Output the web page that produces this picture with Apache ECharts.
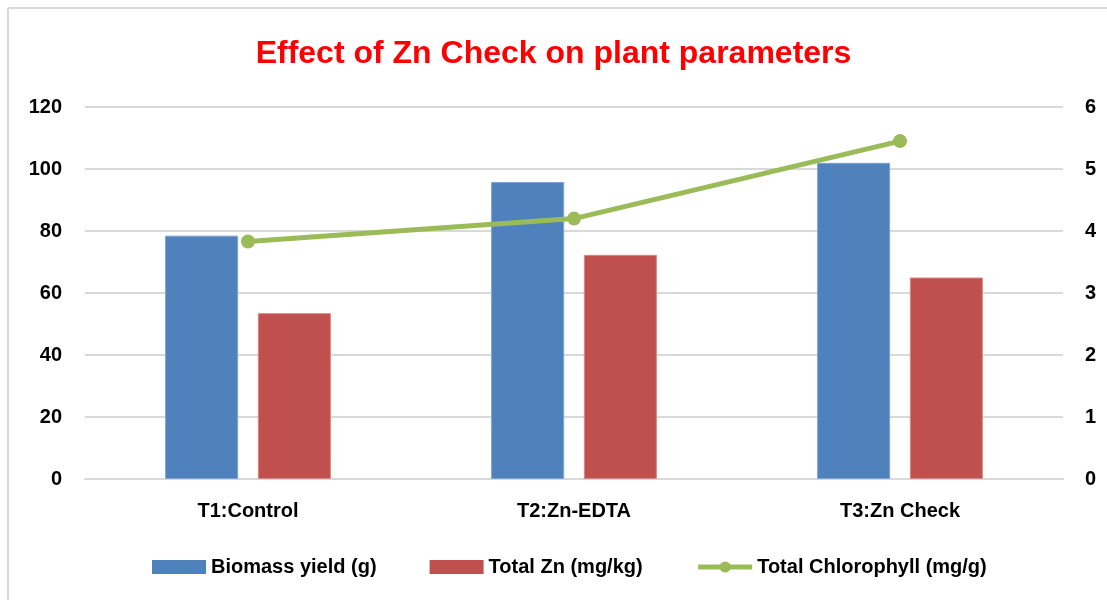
<!DOCTYPE html>
<html>
<head>
<meta charset="utf-8">
<script src="https://cdn.jsdelivr.net/npm/echarts@6/dist/echarts.min.js"></script>
<style>
  html, body { margin: 0; padding: 0; background: #fff; }
  #main { width: 1107px; height: 600px; }
</style>
</head>
<body>
<div id="main"></div>
<script>
// 数据
var categories = ['T1:Control', 'T2:Zn-EDTA', 'T3:Zn Check'];
var biomass = [78.5, 95.8, 102.0];
var totalZn = [53.5, 72.3, 65.0];
var chlorophyll = [3.83, 4.20, 5.45];
var leftTicks = [0, 120, 20];   // min, max, interval
var rightTicks = [0, 6, 1];

var FONT = 'Liberation Sans';
var myChart = echarts.init(document.getElementById('main'));

var option = {
    backgroundColor: '#fff',
    animation: false,
    title: {
        text: 'Effect of Zn Check on plant parameters',
        left: 'center',
        top: 33,
        textStyle: { color: '#ff0000', fontSize: 32, fontWeight: 'bold', fontFamily: FONT }
    },
    legend: {
        bottom: 18,
        left: 147,
        itemGap: 53,
        itemWidth: 54,
        itemHeight: 14,
        data: [
            { name: 'Biomass yield (g)', icon: 'rect', itemStyle: { borderWidth: 0 } },
            { name: 'Total Zn (mg/kg)', icon: 'rect', itemStyle: { borderWidth: 0 } },
            {
                name: 'Total Chlorophyll (mg/g)',
                lineStyle: { color: '#9bbb59', width: 5 },
                itemStyle: { color: '#9bbb59' }
            }
        ],
        textStyle: { color: '#000', fontSize: 20, fontWeight: 'bold', fontFamily: FONT }
    },
    grid: { left: 85, right: 44, top: 107, bottom: 121, containLabel: false },
    xAxis: {
        type: 'category',
        data: categories,
        axisLine: { show: true, lineStyle: { color: '#d9d9d9', width: 2 } },
        axisTick: { show: false },
        axisLabel: { color: '#000', fontSize: 20, fontWeight: 'bold', fontFamily: FONT, margin: 22 }
    },
    yAxis: [{
        type: 'value',
        min: leftTicks[0], max: leftTicks[1], interval: leftTicks[2],
        axisLine: { show: false },
        axisTick: { show: false },
        splitLine: { lineStyle: { color: '#d9d9d9', width: 2 } },
        axisLabel: { color: '#000', fontSize: 20, fontWeight: 'bold', fontFamily: FONT, margin: 23 }
    }, {
        type: 'value',
        min: rightTicks[0], max: rightTicks[1], interval: rightTicks[2],
        axisLine: { show: false },
        axisTick: { show: false },
        splitLine: { show: false },
        axisLabel: { color: '#000', fontSize: 20, fontWeight: 'bold', fontFamily: FONT, margin: 22 }
    }],
    series: [{
        name: 'Biomass yield (g)',
        type: 'bar',
        data: biomass,
        barWidth: '22.4%',
        barGap: '27%',
        itemStyle: { color: '#4f81bd', borderColor: '#7da3d4', borderWidth: 1 }
    }, {
        name: 'Total Zn (mg/kg)',
        type: 'bar',
        data: totalZn,
        barWidth: '22.4%',
        itemStyle: { color: '#c0504d', borderColor: '#d98784', borderWidth: 1 }
    }, {
        name: 'Total Chlorophyll (mg/g)',
        type: 'line',
        yAxisIndex: 1,
        data: chlorophyll,
        symbol: 'circle',
        symbolSize: 14,
        lineStyle: { color: '#9bbb59', width: 5 },
        itemStyle: { color: '#9bbb59' }
    }],
    graphic: [
        { type: 'line', shape: { x1: 8, y1: 8, x2: 1107, y2: 8 }, style: { stroke: '#d9d9d9', lineWidth: 2 } },
        { type: 'line', shape: { x1: 8, y1: 8, x2: 8, y2: 600 }, style: { stroke: '#d9d9d9', lineWidth: 2 } }
    ]
};
myChart.setOption(option);
</script>
</body>
</html>
